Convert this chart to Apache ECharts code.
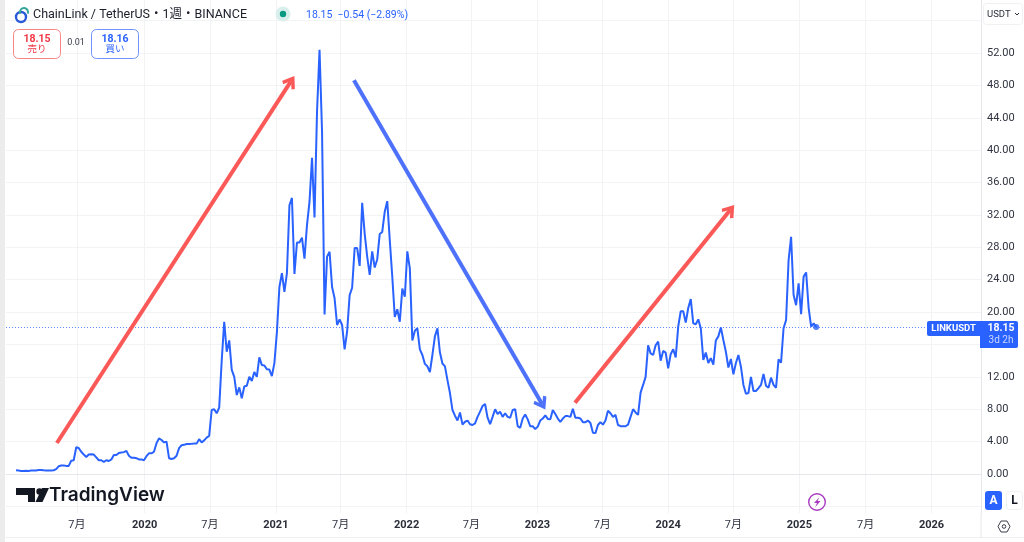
<!DOCTYPE html>
<html><head><meta charset="utf-8">
<style>html,body{margin:0;padding:0;background:#fff}#c{width:1024px;height:542px}</style>
<script src="https://cdn.jsdelivr.net/npm/echarts@6/dist/echarts.min.js"></script>
</head><body><div id="c"></div>
<script>
const firstWeek = '2019-01-07';
const axisStart = '2018-12-10';
const axisEnd = '2026-05-23';
const weeklyClose = [
0.46,0.42,0.38,0.38,0.4,0.38,0.42,0.42,0.44,0.48,0.5,0.46,0.44,0.42,0.44,0.46,0.6,0.95,1.05,1.05,
1.0,1.0,1.64,1.7,3.3,3.2,2.75,2.4,2.1,2.4,2.45,2.4,2.05,1.7,1.7,1.5,1.7,1.6,1.8,2.35,
2.35,2.6,2.65,2.7,2.85,2.25,2.0,2.0,1.95,1.8,1.8,1.7,2.2,2.55,2.55,2.75,3.8,4.4,4.2,3.9,
4.0,1.95,1.85,1.95,2.25,3.2,3.55,3.6,3.7,3.7,3.72,3.75,3.75,4.3,3.9,4.15,4.5,4.7,7.9,8.0,
7.5,8.2,14.0,18.8,15.1,16.5,12.85,12.0,9.75,10.7,9.35,10.8,10.9,12.0,11.5,12.6,12.0,14.4,13.45,13.4,
12.95,12.9,12.1,13.7,17.5,23.1,24.8,22.5,24.8,33.2,34.1,24.7,28.6,28.6,29.2,26.6,30.75,33.6,39.05,31.7,
44.75,52.4,42.3,19.7,26.85,27.45,23.1,21.7,18.4,19.1,18.4,15.4,17.6,22.1,23.0,27.9,27.9,25.7,33.5,29.7,
26.85,24.6,27.5,25.5,26.5,29.65,29.9,32.4,33.7,28.9,24.4,19.4,20.35,18.8,22.9,21.9,27.5,25.4,16.5,17.7,
18.0,15.4,14.7,13.6,13.3,12.6,14.7,17.0,18.0,15.0,13.65,13.3,11.6,10.0,7.9,7.2,6.6,7.6,6.1,6.45,
6.6,6.15,6.05,6.25,7.05,7.7,8.4,8.65,6.95,6.15,7.05,8.0,7.4,7.7,7.05,7.5,7.05,6.95,7.9,8.0,
5.9,5.7,6.85,7.35,6.75,5.9,5.9,5.55,5.85,6.6,6.85,7.25,6.8,6.75,7.9,7.4,6.85,6.45,6.85,7.15,
7.15,7.05,8.05,6.95,6.95,6.85,6.4,6.4,6.6,6.3,5.1,5.05,6.05,6.4,6.1,6.6,7.8,7.5,7.05,7.3,
6.05,5.9,5.9,5.9,6.1,7.05,8.0,7.6,7.3,10.05,11.0,12.0,15.9,14.9,14.7,15.9,16.35,14.0,15.2,15.0,
13.05,14.8,15.4,14.4,18.2,20.1,20.1,18.7,20.5,21.6,18.6,18.5,19.1,18.0,14.1,15.0,13.7,14.3,13.5,16.5,
17.0,18.1,16.55,15.1,13.15,14.2,12.3,13.7,14.7,13.25,11.0,9.9,10.0,12.0,10.25,10.25,10.6,11.0,12.35,10.9,
10.65,11.9,11.0,10.65,14.15,13.75,18.0,19.0,26.4,29.3,22.1,20.85,23.55,19.75,24.4,24.9,20.5,18.2,18.6,18.15
];
const lastPrice = 18.15;
const tickDates = ['2019-06-26','2020-01-01','2020-07-01','2021-01-01','2021-07-01','2022-01-01','2022-07-01','2023-01-01','2023-07-01','2024-01-01','2024-07-01','2025-01-01','2025-07-05','2026-01-05'];
const tickLabels = ['7月','2020','7月','2021','7月','2022','7月','2023','7月','2024','7月','2025','7月','2026'];
const priceTicks = [0,4,8,12,16,20,24,28,32,36,40,44,48,52];
const priceLines = [-4,0,4,8,12,16,20,24,28,32,36,40,44,48,52,56];
const upArrows = [[['2019-05-01',3.83],['2021-02-12',48.5]],[['2023-04-16',8.8],['2024-06-22',32.6]]];
const downArrows = [[['2021-08-07',48.65],['2023-01-14',8.65]]];

const FONT = 'Roboto, "Noto Sans CJK JP", sans-serif';
const ts = s => new Date(s + 'T00:00:00').getTime();
const t0 = ts(firstWeek);
const seriesData = weeklyClose.map((v, i) => [t0 + i * 7 * 864e5, v]);
const tickTs = tickDates.map(ts);
const chevron = 'path://M10 0 L20 14 L16.6 17 L10 8 L3.4 17 L0 14 Z';
const arrowData = list => list.map(a => a.map(p => ({coord: [ts(p[0]), p[1]]})));
const arrowSeries = (list, color) => ({
  type: 'line', data: [], silent: true,
  markLine: {silent: true, animation: false, symbol: ['none', chevron], symbolSize: [15, 13],
    lineStyle: {color, width: 4, type: 'solid', opacity: 1}, label: {show: false},
    emphasis: {disabled: true}, data: arrowData(list)}
});
const txt = (x, y, text, o = {}) => ({type: 'text', x, y, z: 20, style: Object.assign({
  text, font: (o.weight || 'normal') + ' ' + (o.size || 11) + 'px ' + FONT,
  fill: o.fill || '#131722', textAlign: o.align || 'left', textVerticalAlign: 'middle'}, o.style || {})});
const rect = (x, y, w, h, fill, stroke, r = 0, z = 19) => ({type: 'rect', z, shape: {x, y, width: w, height: h, r},
  style: {fill, stroke: stroke || null, lineWidth: stroke ? 1 : 0}});

const chart = echarts.init(document.getElementById('c'), null, {renderer: 'canvas'});
chart.setOption({
  animation: false, backgroundColor: '#fff',
  grid: {left: 6, right: 43, top: 0, height: 513},
  xAxis: {type: 'value', min: ts(axisStart), max: ts(axisEnd), scale: true,
    axisLine: {show: true, lineStyle: {color: '#e6e7ea', width: 1}},
    axisTick: {show: false, customValues: tickTs},
    splitLine: {show: true, lineStyle: {color: '#f2f3f5', width: 1}},
    axisLabel: {customValues: tickTs, margin: 7, fontFamily: FONT, fontSize: 11, color: '#2f3340', hideOverlap: false,
      formatter: v => { const l = tickLabels[tickTs.indexOf(v)] || ''; return /月/.test(l) ? l : '{y|' + l + '}'; },
      rich: {y: {fontWeight: 'bold', fontSize: 11, fontFamily: FONT, color: '#2a2e39'}}}},
  yAxis: {type: 'value', position: 'right', min: -4.82, max: 58.55, scale: false,
    axisLine: {show: true, lineStyle: {color: '#e6e7ea', width: 1}},
    axisTick: {show: false, customValues: priceLines},
    splitLine: {show: true, lineStyle: {color: '#f2f3f5', width: 1}},
    axisLabel: {customValues: priceTicks, margin: 6, fontFamily: FONT, fontSize: 11, color: '#2f3340',
      formatter: v => v.toFixed(2)}},
  series: [
    {type: 'line', data: seriesData, showSymbol: false, smooth: false, silent: true, z: 5,
      lineStyle: {color: '#2962ff', width: 2}, itemStyle: {color: '#2962ff'},
      markLine: {silent: true, symbol: 'none', animation: false, label: {show: false},
        lineStyle: {color: '#2962ff', width: 1, type: [1, 2], opacity: 0.75},
        data: [{yAxis: lastPrice}]}},
    {type: 'scatter', data: [seriesData[seriesData.length - 1]], symbolSize: 6, silent: true, z: 6,
      itemStyle: {color: '#2962ff'}},
    arrowSeries(upArrows, '#fb5858'),
    arrowSeries(downArrows, '#4d71fb')
  ],
  graphic: {elements: [
    rect(0, 0, 5, 542, '#ececec', null),
    rect(6, 537, 1018, 1, '#eeeeee', null),
    {type: 'line', z: 19, shape: {x1: 981, y1: 513, x2: 981, y2: 537}, style: {stroke: '#e6e7ea', lineWidth: 1}},
    {type: 'circle', z: 20, shape: {cx: 21, cy: 17, r: 5}, style: {fill: '#fff', stroke: '#2a5ada', lineWidth: 2.4}},
    {type: 'arc', z: 20, shape: {cx: 24, cy: 12, r: 4, startAngle: -3.6, endAngle: 0.4}, style: {stroke: '#37a69a', fill: null, lineWidth: 2}},
    txt(33, 15, 'ChainLink / TetherUS・1週・BINANCE', {size: 12.5, fill: '#1b1f2b'}),
    {type: 'circle', z: 20, shape: {cx: 283, cy: 14, r: 7.5}, style: {fill: '#d9efec'}},
    {type: 'circle', z: 21, shape: {cx: 283, cy: 14, r: 3.2}, style: {fill: '#089981'}},
    txt(306, 15, '18.15  −0.54 (−2.89%)', {size: 10.5, fill: '#2962ff'}),
    rect(13.5, 29.5, 47, 29, '#fff', '#f7858a', 5),
    txt(37, 39, '18.15', {size: 10.5, weight: 'bold', fill: '#f23645', align: 'center'}),
    txt(37, 50, '売り', {size: 9.5, fill: '#f23645', align: 'center'}),
    txt(76, 43, '0.01', {size: 9, fill: '#3a3e4a', align: 'center'}),
    rect(91.5, 29.5, 47, 29, '#fff', '#6f93ff', 5),
    txt(115, 39, '18.16', {size: 10.5, weight: 'bold', fill: '#2962ff', align: 'center'}),
    txt(115, 50, '買い', {size: 9.5, fill: '#2962ff', align: 'center'}),
    rect(983.5, 3.5, 39, 21, '#fff', '#f0f1f3', 3),
    txt(987, 14.5, 'USDT', {size: 9.5, fill: '#2a2e39'}),
    {type: 'polyline', z: 20, shape: {points: [[1015, 13], [1017, 15], [1019, 13]]}, style: {stroke: '#2a2e39', lineWidth: 1, fill: null}},
    rect(927, 321, 53, 15, '#2962ff', null, [2, 0, 0, 2]),
    txt(953.5, 328.5, 'LINKUSDT', {size: 9.5, weight: 'bold', fill: '#fff', align: 'center'}),
    rect(980, 321, 38, 27, '#2962ff', null, [0, 2, 2, 0]),
    txt(1001, 328, '18.15', {size: 10.5, weight: 'bold', fill: '#fff', align: 'center'}),
    txt(1001, 340.5, '3d 2h', {size: 10, fill: '#c9d6ff', align: 'center'}),
    {type: 'polygon', z: 20, shape: {points: [[16, 488], [35, 488], [35, 502], [28, 502], [28, 495], [16, 495]]}, style: {fill: '#131722'}},
    {type: 'circle', z: 20, shape: {cx: 39.5, cy: 491.5, r: 3.2}, style: {fill: '#131722'}},
    {type: 'polygon', z: 20, shape: {points: [[35.5, 502], [42, 488], [49, 488], [42.5, 502]]}, style: {fill: '#131722'}},
    txt(49, 495.5, 'TradingView', {size: 19, weight: 'bold', fill: '#131722', style: {font: '600 19px Inter, Roboto, sans-serif'}}),
    {type: 'circle', z: 20, shape: {cx: 817, cy: 502, r: 8.3}, style: {fill: '#fff', stroke: '#a93bc0', lineWidth: 1.4}},
    {type: 'polygon', z: 21, shape: {points: [[819.5, 497], [814, 503], [817, 503], [815, 507.5], [820.5, 501], [817.5, 501]]}, style: {fill: '#a93bc0'}},
    rect(985, 491, 17, 19, '#2962ff', null, 3),
    txt(993.5, 501, 'A', {size: 12, weight: 'bold', fill: '#fff', align: 'center'}),
    rect(1006.5, 491.5, 16, 18, '#fff', '#f0f1f3', 3),
    txt(1014.5, 501, 'L', {size: 12, weight: 'bold', fill: '#131722', align: 'center'}),
    {type: 'polygon', z: 20, shape: {points: [[998, 526.5], [1001, 521], [1007, 521], [1010, 526.5], [1007, 532], [1001, 532]]}, style: {fill: '#fff', stroke: '#3a3e4a', lineWidth: 1}},
    {type: 'circle', z: 21, shape: {cx: 1004, cy: 526.5, r: 1.8}, style: {fill: '#fff', stroke: '#3a3e4a', lineWidth: 1}}
  ]}
});
</script></body></html>
